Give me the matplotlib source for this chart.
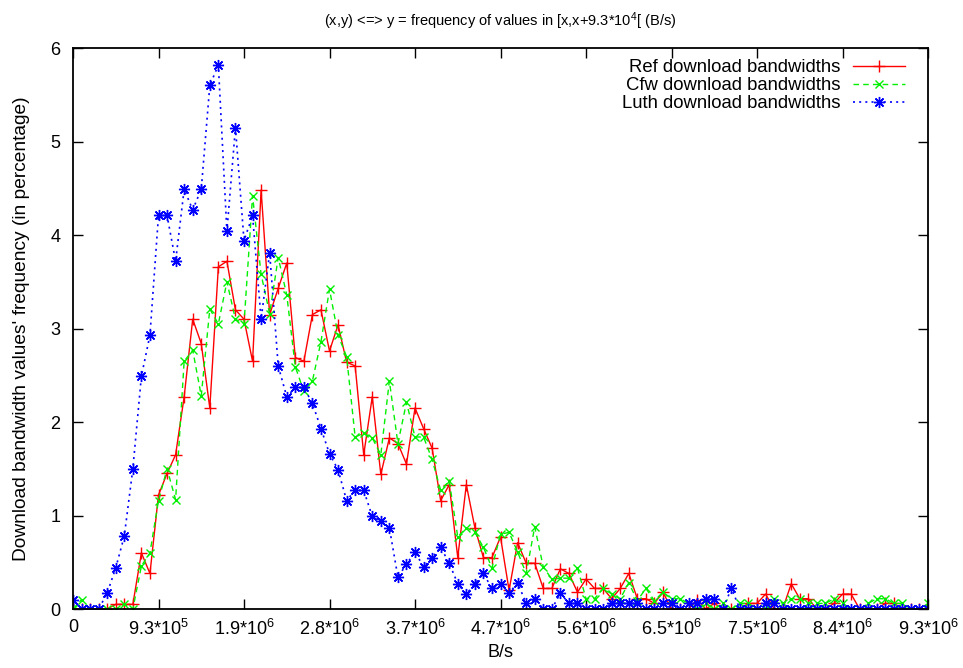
import numpy as np
import matplotlib
matplotlib.use('Agg')
import matplotlib.pyplot as plt

plt.rcParams['font.family'] = ['Liberation Sans', 'DejaVu Sans']
plt.rcParams['mathtext.fontset'] = 'custom'
plt.rcParams['mathtext.rm'] = 'Liberation Sans'
plt.rcParams['mathtext.it'] = 'Liberation Sans:italic'

# bin width (B/s) of the histogram
BIN_WIDTH = 9.34e4

ref_values = [
    0, 0, 0, 0, 0, 0.05, 0.05, 0.05, 0.6, 0.38,
    1.22, 1.45, 1.65, 2.27, 3.1, 2.84, 2.15, 3.66, 3.72, 3.2,
    3.1, 2.65, 4.48, 3.15, 3.43, 3.7, 2.69, 2.65, 3.15, 3.2,
    2.76, 3.04, 2.64, 2.6, 1.65, 2.27, 1.44, 1.83, 1.77, 1.55,
    2.15, 1.93, 1.72, 1.16, 1.33, 0.55, 1.33, 0.87, 0.55, 0.55,
    0.77, 0.2, 0.71, 0.49, 0.49, 0.22, 0.22, 0.43, 0.38, 0.18,
    0.32, 0.22, 0.22, 0.11, 0.22, 0.38, 0.11, 0.11, 0.06, 0.18,
    0, 0, 0, 0.1, 0, 0.06, 0, 0, 0, 0.06,
    0.06, 0.16, 0, 0, 0.27, 0.11, 0.11, 0, 0, 0.06,
    0.16, 0.16, 0, 0, 0, 0.06, 0.06, 0, 0, 0,
    0,
]

cfw_values = [
    0, 0.1, 0, 0, 0, 0, 0.05, 0, 0.46, 0.6,
    1.16, 1.5, 1.17, 2.65, 2.77, 2.28, 3.21, 3.05, 3.5, 3.1,
    3.05, 4.42, 3.58, 3.16, 3.76, 3.36, 2.59, 2.33, 2.44, 2.86,
    3.42, 2.93, 2.7, 1.84, 1.88, 1.83, 1.65, 2.44, 1.77, 2.21,
    1.84, 1.84, 1.6, 1.27, 1.37, 0.77, 0.87, 0.82, 0.66, 0.44,
    0.8, 0.82, 0.61, 0.38, 0.88, 0.45, 0.32, 0.33, 0.33, 0.44,
    0.11, 0.11, 0.22, 0.16, 0.11, 0.28, 0.09, 0.22, 0.09, 0.18,
    0.11, 0.11, 0.06, 0, 0.06, 0, 0.06, 0, 0.06, 0.06,
    0, 0, 0.11, 0.06, 0.11, 0.11, 0.06, 0.06, 0.06, 0.11,
    0.06, 0, 0, 0.06, 0.11, 0.11, 0.06, 0.06, 0, 0,
    0.06,
]

luth_values = [
    0.1, 0, 0, 0, 0.17, 0.44, 0.78, 1.5, 2.49, 2.93,
    4.21, 4.21, 3.72, 4.49, 4.27, 4.49, 5.6, 5.82, 4.04, 5.15,
    3.94, 4.21, 3.1, 3.81, 2.6, 2.27, 2.37, 2.37, 2.2, 1.93,
    1.66, 1.49, 1.16, 1.27, 1.27, 0.99, 0.94, 0.87, 0.34, 0.48,
    0.61, 0.45, 0.55, 0.66, 0.49, 0.27, 0.16, 0.27, 0.38, 0.22,
    0.27, 0.17, 0.28, 0.06, 0.11, 0, 0, 0.17, 0.06, 0.06,
    0, 0, 0, 0.06, 0.06, 0.06, 0.06, 0, 0, 0.06,
    0.06, 0, 0.06, 0.06, 0.11, 0.11, 0, 0.22, 0, 0,
    0, 0.06, 0.06, 0, 0, 0, 0, 0, 0, 0,
    0, 0, 0, 0, 0, 0, 0, 0, 0, 0,
    0,
]

x_tick_labels = [
    '0', '9.3*10$^{5}$', '1.9*10$^{6}$', '2.8*10$^{6}$', '3.7*10$^{6}$',
    '4.7*10$^{6}$', '5.6*10$^{6}$', '6.5*10$^{6}$', '7.5*10$^{6}$',
    '8.4*10$^{6}$', '9.3*10$^{6}$',
]
y_ticks = [0, 1, 2, 3, 4, 5, 6]

x = np.arange(len(ref_values)) * BIN_WIDTH

fig = plt.figure(figsize=(9.63, 6.68), dpi=100)
ax = fig.add_axes([0.0758, 0.0883, 0.8879, 0.8397])

ax.plot(x, ref_values, color='#ff0000', linestyle='-', linewidth=1.0,
        marker='+', markersize=8, markeredgewidth=1.0,
        label='Ref download bandwidths')
ax.plot(x, cfw_values, color='#00f000', linestyle=(0, (4, 3)), linewidth=1.0,
        marker='x', markersize=6, markeredgewidth=1.0,
        label='Cfw download bandwidths')
ax.plot(x, luth_values, color='#0000ff', linestyle=(0, (1.2, 2.5)), linewidth=1.2,
        marker=(8, 2, 0), markersize=8, markeredgewidth=1.0,
        label='Luth download bandwidths')

ax.set_xlim(0, (len(ref_values) - 1) * BIN_WIDTH)
ax.set_ylim(0, 6)
x_ticks = np.arange(len(x_tick_labels)) * BIN_WIDTH * 10
ax.set_xticks(x_ticks)
ax.set_xticklabels(x_tick_labels)
ax.set_yticks(y_ticks)

ax.tick_params(direction='in', length=7, width=1.0, labelsize=13,
               top=True, right=True)
ax.tick_params(axis='x', pad=7)
ax.tick_params(axis='y', pad=9)
for spine in ax.spines.values():
    spine.set_linewidth(1.3)

ax.set_xlabel('B/s', fontsize=13, labelpad=4)
ax.set_ylabel("Download bandwidth values' frequency (in percentage)",
              fontsize=13.8, labelpad=15)

fig.text(0.519, 1 - 21 / 668,
         '(x,y) <=> y = frequency of values in [x,x+9.3*10$^{4}$[ (B/s)',
         ha='center', va='center', fontsize=10.5)

ax.legend(loc='upper right', bbox_to_anchor=(0.973, 0.98), frameon=False,
          markerfirst=False, numpoints=1, fontsize=13.3, handlelength=2.8,
          handletextpad=0.7, labelspacing=0.05, borderpad=0, borderaxespad=0)

fig.savefig('out.png', dpi=100)
plt.close(fig)
